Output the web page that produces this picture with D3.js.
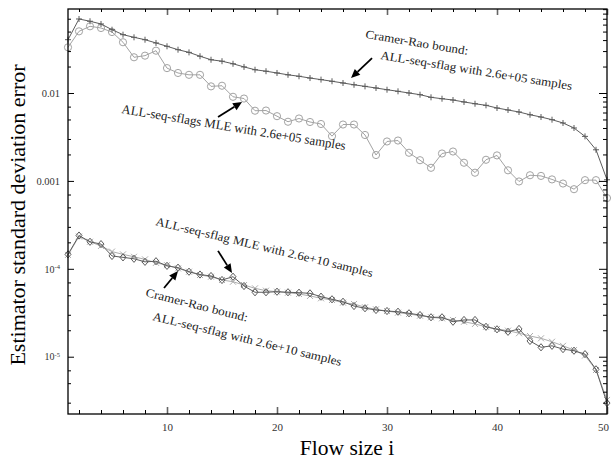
<!DOCTYPE html>
<html>
<head>
<meta charset="utf-8">
<script src="https://cdn.jsdelivr.net/npm/d3@7"></script>
<style>
  body { margin: 0; background: #fff; }
  svg { font-family: "Liberation Serif", "DejaVu Serif", serif; }
</style>
</head>
<body>
<svg id="chart" width="611" height="460"></svg>
<script>
let flow_sizes = [1, 2, 3, 4, 5, 6, 7, 8, 9, 10, 11, 12, 13, 14, 15, 16, 17, 18, 19, 20,
  21, 22, 23, 24, 25, 26, 27, 28, 29, 30, 31, 32, 33, 34, 35, 36, 37, 38, 39, 40,
  41, 42, 43, 44, 45, 46, 47, 48, 49, 50]

// Cramer-Rao bound, 2.6e+05 samples
let crb_05 = [0.0404, 0.0695, 0.0655, 0.0610, 0.0525, 0.0461, 0.0430, 0.0404, 0.0371, 0.0340,
  0.0311, 0.0290, 0.0262, 0.0239, 0.0230, 0.0215, 0.0198, 0.0184, 0.0177, 0.0169,
  0.0161, 0.0155, 0.0148, 0.0142, 0.0136, 0.0130, 0.0124, 0.0119, 0.0114, 0.0109,
  0.01045, 0.0100, 0.00957, 0.00893, 0.00861, 0.00832, 0.00791, 0.00755, 0.00724, 0.00675,
  0.00641, 0.00608, 0.00566, 0.00533, 0.00497, 0.00456, 0.00400, 0.00321, 0.00226, 0.00103]

// MLE, 2.6e+05 samples
let mle_05 = [0.0331, 0.0503, 0.0574, 0.0549, 0.0494, 0.0378, 0.0255, 0.0266, 0.0303, 0.0192,
  0.0169, 0.0161, 0.0161, 0.0119, 0.0121, 0.00906, 0.00865, 0.00629, 0.00632, 0.00545,
  0.00471, 0.00513, 0.00468, 0.00444, 0.00323, 0.00438, 0.00438, 0.00333, 0.00197, 0.00281,
  0.00288, 0.00209, 0.00172, 0.00141, 0.00205, 0.00216, 0.00161, 0.00124, 0.00174, 0.00195,
  0.00132, 0.000985, 0.00116, 0.00114, 0.00104, 0.000934, 0.000805, 0.00102, 0.00102, 0.000638]

// Cramer-Rao bound, 2.6e+10 samples
let crb_10 = [1.46e-4, 2.39e-4, 2.03e-4, 1.91e-4, 1.40e-4, 1.35e-4, 1.30e-4, 1.20e-4, 1.22e-4, 1.08e-4,
  1.03e-4, 9.27e-5, 8.61e-5, 8.28e-5, 7.46e-5, 8.13e-5, 6.37e-5, 5.41e-5, 5.41e-5, 5.49e-5,
  5.41e-5, 5.35e-5, 5.26e-5, 4.82e-5, 4.50e-5, 4.22e-5, 3.77e-5, 3.56e-5, 3.40e-5, 3.31e-5,
  3.25e-5, 3.12e-5, 2.98e-5, 2.81e-5, 2.81e-5, 2.50e-5, 2.62e-5, 2.62e-5, 2.19e-5, 2.05e-5,
  1.92e-5, 2.07e-5, 1.51e-5, 1.28e-5, 1.33e-5, 1.22e-5, 1.17e-5, 1.07e-5, 7.19e-6, 2.97e-6]

// MLE, 2.6e+10 samples
let mle_10 = [1.44e-4, 2.33e-4, 2.03e-4, 1.82e-4, 1.57e-4, 1.46e-4, 1.37e-4, 1.28e-4, 1.17e-4, 1.10e-4,
  1.01e-4, 9.27e-5, 8.50e-5, 8.13e-5, 7.46e-5, 7.13e-5, 6.54e-5, 6.00e-5, 5.64e-5, 5.49e-5,
  5.35e-5, 5.17e-5, 4.91e-5, 4.62e-5, 4.42e-5, 4.12e-5, 3.98e-5, 3.65e-5, 3.46e-5, 3.31e-5,
  3.17e-5, 3.06e-5, 2.93e-5, 2.81e-5, 2.73e-5, 2.62e-5, 2.50e-5, 2.36e-5, 2.19e-5, 2.07e-5,
  1.98e-5, 1.85e-5, 1.72e-5, 1.62e-5, 1.48e-5, 1.33e-5, 1.19e-5, 1.03e-5, 7.06e-6, 3.22e-6]

let x_major_ticks = [10, 20, 30, 40, 50]
let x_minor_ticks = [2, 4, 6, 8, 12, 14, 16, 18, 22, 24, 26, 28, 32, 34, 36, 38, 42, 44, 46, 48]
let y_major_ticks = [1e-5, 1e-4, 1e-3, 1e-2]
let y_tick_labels = ["10^-5", "10^-4", "0.001", "0.01"]

// annotation anchors in data units: [flow size, error]
let note_texts = ["Cramer-Rao bound:", "ALL-seq-sflag with 2.6e+05 samples",
  "ALL-seq-sflags MLE with 2.6e+05 samples", "ALL-seq-sflag MLE with 2.6e+10 samples",
  "Cramer-Rao bound:", "ALL-seq-sflag with 2.6e+10 samples"]
let note_anchors = [[28.0, 0.0423], [29.36, 0.0244], [5.82, 0.00592], [8.91, 3.15e-4], [8.0, 4.91e-5], [8.64, 2.62e-5]]
let arrow_ends = [
  [[28.64, 0.0250], [26.73, 0.0148]],
  [[14.64, 0.00533], [16.82, 0.00791]],
  [[14.64, 1.60e-4], [15.91, 8.96e-5]],
  [[9.73, 6.05e-5], [11.0, 9.44e-5]]
]

let plot = { left: 68, right: 607, top: 9, bottom: 414 }
let svg = d3.select("#chart")

let x = d3.scaleLinear().domain([1, 50]).range([plot.left, plot.right])
let y = d3.scaleLog().domain([2.23e-6, 0.0903]).range([plot.bottom, plot.top])

function minor_log_ticks(mults) {
  let out = []
  for (let e = -6; e <= -2; e++)
    mults.forEach(m => {
      let v = m * Math.pow(10, e)
      if (v >= y.domain()[0] && v <= y.domain()[1]) out.push(v)
    })
  return out
}

function clean(g) {
  g.select(".domain").remove()
  g.selectAll(".tick line").attr("stroke", "#000").attr("stroke-width", 1)
}

function draw_axes() {
  // bottom
  svg.append("g").attr("transform", `translate(0,${plot.bottom})`)
    .call(d3.axisBottom(x).tickValues(x_minor_ticks).tickFormat("").tickSize(-4))
    .call(clean)
  svg.append("g").attr("transform", `translate(0,${plot.bottom})`)
    .call(d3.axisBottom(x).tickValues(x_major_ticks).tickSize(-7).tickPadding(9))
    .call(clean)
    .call(g => g.selectAll(".tick line").attr("stroke", "#666").attr("stroke-width", 1.6))
    .call(g => g.selectAll(".tick text")
      .attr("font-family", "Liberation Serif").attr("font-size", 11).attr("fill", "#333")
      .attr("dx", d => d == 50 ? -4 : 0))

  // top
  svg.append("g").attr("transform", `translate(0,${plot.top})`)
    .call(d3.axisTop(x).tickValues(x_minor_ticks).tickFormat("").tickSize(-3))
    .call(clean)
  svg.append("g").attr("transform", `translate(0,${plot.top})`)
    .call(d3.axisTop(x).tickValues(x_major_ticks).tickFormat("").tickSize(-6))
    .call(clean)
    .call(g => g.selectAll(".tick line").attr("stroke", "#666").attr("stroke-width", 1.6))

  // left
  svg.append("g").attr("transform", `translate(${plot.left},0)`)
    .call(d3.axisLeft(y).tickValues(minor_log_ticks([2, 3, 5, 7])).tickFormat("").tickSize(-3))
    .call(clean)
  svg.append("g").attr("transform", `translate(${plot.left},0)`)
    .call(d3.axisLeft(y).tickValues(y_major_ticks).tickSize(-6).tickPadding(8))
    .call(clean)
    .call(g => g.selectAll(".tick text").each(function (d, i) {
      let t = d3.select(this)
        .attr("font-family", "Liberation Serif").attr("font-size", 10.5).attr("fill", "#333")
      let parts = y_tick_labels[i].split("^")
      t.text(parts[0])
      if (parts.length > 1) {
        t.attr("font-size", 10)
        t.append("tspan").attr("dy", "-0.5em").attr("font-size", 6.5).text(parts[1])
      }
    }))

  // right
  svg.append("g").attr("transform", `translate(${plot.right},0)`)
    .call(d3.axisRight(y).tickValues(minor_log_ticks([2, 3, 4, 5, 6, 7, 8, 9])).tickFormat("").tickSize(-4))
    .call(clean)
  svg.append("g").attr("transform", `translate(${plot.right},0)`)
    .call(d3.axisRight(y).tickValues(y_major_ticks).tickFormat("").tickSize(-8))
    .call(clean)

  svg.append("rect")
    .attr("x", plot.left).attr("y", plot.top)
    .attr("width", plot.right - plot.left).attr("height", plot.bottom - plot.top)
    .attr("fill", "none").attr("stroke", "#000").attr("stroke-width", 1.3)
}

let markers = {
  plus: "M-3,0H3M0,-3V3",
  cross: "M-3,-3L3,3M-3,3L3,-3",
  diamond: "M0,-3.6L3,0L0,3.6L-3,0Z"
}

function draw_series(values, color, marker) {
  let g = svg.append("g")
  let line = d3.line().x((d, i) => x(flow_sizes[i])).y(d => y(d))
  g.append("path").datum(values)
    .attr("d", line).attr("fill", "none").attr("stroke", color).attr("stroke-width", 1)

  if (marker == "circle") {
    g.selectAll("circle").data(values).enter().append("circle")
      .attr("cx", (d, i) => x(flow_sizes[i])).attr("cy", d => y(d)).attr("r", 3.6)
      .attr("fill", "none").attr("stroke", color).attr("stroke-width", 1)
  } else {
    g.selectAll("path.m").data(values).enter().append("path")
      .attr("class", "m")
      .attr("transform", (d, i) => `translate(${x(flow_sizes[i])},${y(d)})`)
      .attr("d", markers[marker])
      .attr("fill", "none").attr("stroke", color).attr("stroke-width", 1)
  }
}

let note_style = [
  { angle: 9.4, len: 104, size: 12 },
  { angle: 9.2, len: 194, size: 12 },
  { angle: 9.4, len: 227, size: 13 },
  { angle: 13.5, len: 223, size: 12 },
  { angle: 14.2, len: 105, size: 12 },
  { angle: 13.7, len: 194, size: 12 }
]

function draw_notes() {
  let g = svg.append("g")
  g.selectAll("text").data(note_texts).enter().append("text")
    .attr("transform", (d, i) => `translate(${x(note_anchors[i][0])},${y(note_anchors[i][1])}) rotate(${note_style[i].angle})`)
    .attr("font-size", (d, i) => note_style[i].size)
    .attr("textLength", (d, i) => note_style[i].len)
    .attr("lengthAdjust", "spacingAndGlyphs")
    .attr("fill", "#222")
    .text(d => d)

  arrow_ends.forEach(([from, to]) => {
    let x1 = x(from[0]), y1 = y(from[1]), x2 = x(to[0]), y2 = y(to[1])
    let a = Math.atan2(y2 - y1, x2 - x1)
    let head = 9, half = 4
    let bx = x2 - head * Math.cos(a), by = y2 - head * Math.sin(a)
    g.append("line")
      .attr("x1", x1).attr("y1", y1).attr("x2", bx).attr("y2", by)
      .attr("stroke", "#000").attr("stroke-width", 1.8)
    g.append("path")
      .attr("d", `M${x2},${y2}L${bx + half * Math.sin(a)},${by - half * Math.cos(a)}L${bx - half * Math.sin(a)},${by + half * Math.cos(a)}Z`)
      .attr("fill", "#000")
  })
}

function draw_titles() {
  svg.append("text")
    .attr("transform", `translate(25,215) rotate(-90)`)
    .attr("text-anchor", "middle").attr("font-size", 22)
    .text("Estimator standard deviation error")
  svg.append("text")
    .attr("x", 347).attr("y", 455)
    .attr("text-anchor", "middle").attr("font-size", 21.5)
    .text("Flow size i")
}

draw_series(mle_05, "#a3a3a3", "circle")
draw_series(crb_05, "#5c5c5c", "plus")
draw_series(mle_10, "#adadad", "cross")
draw_series(crb_10, "#5c5c5c", "diamond")
draw_axes()
draw_notes()
draw_titles()
</script>
</body>
</html>
